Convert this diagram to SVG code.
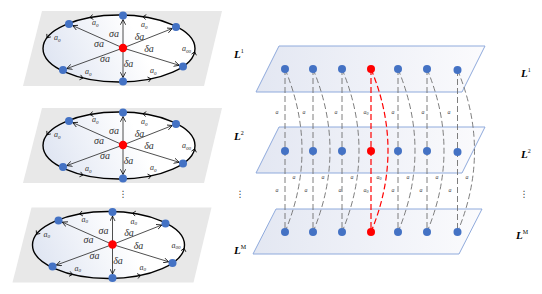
<svg xmlns="http://www.w3.org/2000/svg" xmlns:xlink="http://www.w3.org/1999/xlink" width="542" height="294" viewBox="0 0 542 294">
<defs>
<style>
.gray{fill:#e8e8e8;stroke:none}
.ell{fill:url(#ellG);stroke:#000;stroke-width:1.4}
.ray{stroke:#222;stroke-width:0.8;fill:none;marker-end:url(#arr)}
.chev{stroke:#000;stroke-width:0.8;fill:none}
.bd{fill:#4472c4}
.rd{fill:#ff0000}
.lab{font-family:"Liberation Serif",serif;font-style:italic;font-size:10px;fill:#333;text-anchor:middle}
.el{font-family:"Liberation Serif",serif;font-style:italic;font-size:8px;fill:#333}
.plane{fill:url(#plG);stroke:#8faadc;stroke-width:1}
.dg{stroke:#6f6f6f;stroke-width:0.9;fill:none;stroke-dasharray:6 3}
.dr{stroke:#ff0000;stroke-width:1.2;fill:none;stroke-dasharray:6 3}
.ga{font-family:"Liberation Serif",serif;font-style:italic;font-size:6px;fill:#444;text-anchor:middle}
.L{font-family:"Liberation Serif",serif;font-style:italic;font-weight:bold;font-size:11px;fill:#000}
.sup{font-weight:normal;font-style:normal;font-size:6px}
.vd{font-family:"DejaVu Sans",sans-serif;font-size:9px;fill:#333;text-anchor:middle}
</style>
<linearGradient id="ellG" x1="0" y1="0.6" x2="1" y2="0.4">
<stop offset="0" stop-color="#dfe5f2"/>
<stop offset="0.65" stop-color="#ffffff"/>
</linearGradient>
<linearGradient id="plG" x1="0" y1="0" x2="1" y2="0">
<stop offset="0" stop-color="#e3e7f2"/>
<stop offset="1" stop-color="#fbfbfd"/>
</linearGradient>
<marker id="arr" viewBox="0 0 8 8" refX="7" refY="4" markerWidth="6" markerHeight="6" markerUnits="userSpaceOnUse" orient="auto">
<path d="M0,0.5 L7,4 L0,7.5" fill="none" stroke="#000" stroke-width="1"/>
</marker>
<g id="panelTpl">
<polygon class="gray" points="42,11 222,11 204,86 23,86"/>
<ellipse class="ell" cx="119" cy="48.5" rx="76" ry="33.5"/>
<path class="chev" d="M-3,-2.5 L0,0 L-3,2.5" transform="translate(90,17.5) rotate(170)"/>
<path class="chev" d="M-3,-2.5 L0,0 L-3,2.5" transform="translate(143,16.7) rotate(188)"/>
<path class="chev" d="M-3,-2.5 L0,0 L-3,2.5" transform="translate(47,37.8) rotate(127)"/>
<path class="chev" d="M-3,-2.5 L0,0 L-3,2.5" transform="translate(83,78) rotate(13)"/>
<path class="chev" d="M-3,-2.5 L0,0 L-3,2.5" transform="translate(151,78.9) rotate(-12)"/>
<path class="chev" d="M-3,-2.5 L0,0 L-3,2.5" transform="translate(194.6,51.8) rotate(-77)"/>
<line class="ray" x1="123" y1="48" x2="123" y2="19.5"/>
<line class="ray" x1="123" y1="48" x2="123" y2="77.5"/>
<line class="ray" x1="123" y1="48" x2="72.7" y2="25.6"/>
<line class="ray" x1="123" y1="48" x2="66.8" y2="68.6"/>
<line class="ray" x1="123" y1="48" x2="172.3" y2="28.5"/>
<line class="ray" x1="123" y1="48" x2="179.2" y2="65.3"/>
<circle class="bd" cx="123" cy="15.5" r="4"/>
<circle class="bd" cx="123" cy="81.5" r="4"/>
<circle class="bd" cx="69" cy="24" r="4"/>
<circle class="bd" cx="63" cy="70" r="4"/>
<circle class="bd" cx="176" cy="27" r="4"/>
<circle class="bd" cx="183" cy="66.5" r="4"/>
<circle class="rd" cx="123" cy="48" r="4.2"/>
<text class="lab" x="114" y="37">σa</text>
<text class="lab" x="99" y="46.5">σa</text>
<text class="lab" x="105" y="62">σa</text>
<text class="lab" x="139.5" y="39.5">δa</text>
<text class="lab" x="149" y="52">δa</text>
<text class="lab" x="128.5" y="67">δa</text>
<text class="el" x="92" y="25">a<tspan font-size="5" dy="1.5">0</tspan></text>
<text class="el" x="141" y="27">a<tspan font-size="5" dy="1.5">0</tspan></text>
<text class="el" x="54" y="40">a<tspan font-size="5" dy="1.5">0</tspan></text>
<text class="el" x="182" y="51">a<tspan font-size="5" dy="1.5">00</tspan></text>
<text class="el" x="85" y="74">a<tspan font-size="5" dy="1.5">0</tspan></text>
<text class="el" x="150" y="73">a<tspan font-size="5" dy="1.5">0</tspan></text>
</g>
</defs>

<g id="panel1"><use xlink:href="#panelTpl"/></g>
<g id="panel2"><use xlink:href="#panelTpl" transform="translate(0,97)"/></g>
<g id="panel3"><use xlink:href="#panelTpl" transform="translate(-10.5,196.5)"/></g>
<text class="vd" x="123" y="197">⋮</text>

<g id="plane1"><polygon class="plane" points="279,46 485,46 462,92 256,92"/></g>
<g id="plane2"><polygon class="plane" points="279,127 485,127 462,173 256,173"/></g>
<g id="planeM"><polygon class="plane" points="276,209 482,209 459,254 253,254"/></g>

<g id="connectors">
<line class="dg" x1="285" y1="69" x2="285" y2="232"/>
<line class="dg" x1="313" y1="69" x2="313" y2="232"/>
<line class="dg" x1="342" y1="69" x2="342" y2="232"/>
<line class="dg" x1="398" y1="69" x2="398" y2="232"/>
<line class="dg" x1="427" y1="69" x2="427" y2="232"/>
<line class="dg" x1="457.5" y1="70" x2="457.5" y2="232"/>
<path class="dg" d="M285,69 Q319,150.5 285,232"/>
<path class="dg" d="M313,69 Q347,150.5 313,232"/>
<path class="dg" d="M342,69 Q376,150.5 342,232"/>
<path class="dg" d="M398,69 Q432,150.5 398,232"/>
<path class="dg" d="M427,69 Q461,150.5 427,232"/>
<path class="dg" d="M457.5,70 Q491.5,151 457.5,232"/>
<line class="dr" x1="371" y1="69" x2="371" y2="232"/>
<path class="dr" d="M371,69 Q405,150.5 371,232"/>
</g>

<g id="gaplabels">
<text class="ga" x="277" y="114">a</text>
<text class="ga" x="304" y="114">a</text>
<text class="ga" x="336" y="114">a</text>
<text class="ga" x="366" y="114">a<tspan font-size="4" dy="1">0</tspan></text>
<text class="ga" x="393" y="114">a</text>
<text class="ga" x="423" y="114">a</text>
<text class="ga" x="449" y="114">a</text>
<text class="ga" x="294" y="179">a</text>
<text class="ga" x="323" y="179">a</text>
<text class="ga" x="352" y="179">a</text>
<text class="ga" x="379" y="179">a<tspan font-size="4" dy="1">0</tspan></text>
<text class="ga" x="408" y="179">a</text>
<text class="ga" x="437" y="179">a</text>
<text class="ga" x="467" y="179">a</text>
<text class="ga" x="277" y="192">a</text>
<text class="ga" x="306" y="192">a</text>
<text class="ga" x="340" y="192">a</text>
<text class="ga" x="366" y="192">a<tspan font-size="4" dy="1">0</tspan></text>
<text class="ga" x="393" y="192">a</text>
<text class="ga" x="421" y="192">a</text>
<text class="ga" x="450" y="192">a</text>
</g>

<g id="dots">
<circle class="bd" cx="285" cy="69" r="4"/><circle class="bd" cx="313" cy="69" r="4"/><circle class="bd" cx="342" cy="69" r="4"/><circle class="rd" cx="371" cy="69" r="4"/><circle class="bd" cx="398" cy="69" r="4"/><circle class="bd" cx="427" cy="69" r="4"/><circle class="bd" cx="457.5" cy="70" r="4"/>
<circle class="bd" cx="285" cy="151" r="4"/><circle class="bd" cx="313" cy="151" r="4"/><circle class="bd" cx="342" cy="151" r="4"/><circle class="rd" cx="371" cy="151" r="4"/><circle class="bd" cx="398" cy="151" r="4"/><circle class="bd" cx="427" cy="151" r="4"/><circle class="bd" cx="457.5" cy="152" r="4"/>
<circle class="bd" cx="285" cy="232" r="4"/><circle class="bd" cx="313" cy="232" r="4"/><circle class="bd" cx="342" cy="232" r="4"/><circle class="rd" cx="371" cy="232" r="4"/><circle class="bd" cx="398" cy="232" r="4"/><circle class="bd" cx="427" cy="232" r="4"/><circle class="bd" cx="457.5" cy="232" r="4"/>
</g>

<g id="labels">
<text class="L" x="234" y="58">L<tspan class="sup" dy="-5">1</tspan></text>
<text class="L" x="521" y="77">L<tspan class="sup" dy="-5">1</tspan></text>
<text class="L" x="234" y="140">L<tspan class="sup" dy="-5">2</tspan></text>
<text class="L" x="521" y="158">L<tspan class="sup" dy="-5">2</tspan></text>
<text class="L" x="234" y="254">L<tspan class="sup" dy="-5">M</tspan></text>
<text class="L" x="516" y="239">L<tspan class="sup" dy="-5">M</tspan></text>
<text class="vd" x="240" y="197">⋮</text>
<text class="vd" x="524" y="197">⋮</text>
</g>
</svg>
